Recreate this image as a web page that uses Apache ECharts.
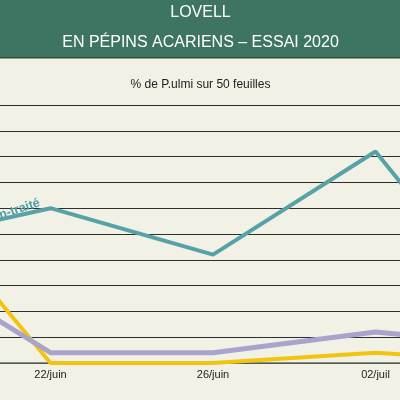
<!DOCTYPE html>
<html>
<head>
<meta charset="utf-8">
<script src="https://cdn.jsdelivr.net/npm/echarts@6/dist/echarts.min.js"></script>
<style>
  html, body { margin: 0; padding: 0; background: #f2f1e5; overflow: hidden; width: 400px; height: 400px; }
  /* chart is wider than the window: first and last dates fall outside the frame */
  #chart { position: absolute; left: -112.5px; top: 0; width: 650px; height: 400px; }
</style>
</head>
<body>
<div id="chart"></div>
<script>
// dates (first and last fall outside the visible frame)
const categories = ['18/juin', '22/juin', '26/juin', '02/juil', '06/juil'];

// % de P.ulmi sur 50 feuilles
const nonTraite = [46, 60, 42, 82, 4];
const modaliteA = [76, 0, 0, 4, 0];
const modaliteB = [43, 4, 4, 12, 6];

const chart = echarts.init(document.getElementById('chart'));

const shift = 112.5; // window's left edge in chart coords
const mid = shift + 200;
const titleFont = { color: '#ffffff', fontSize: 16, fontWeight: 'normal', fontFamily: 'Liberation Sans' };

chart.setOption({
  backgroundColor: '#f2f1e5',
  animation: false,
  graphic: [
    { type: 'rect', left: 0, top: 0, shape: { width: 650, height: 57 }, style: { fill: '#3e7562' }, z: -1 },
    { type: 'rect', left: 0, top: 57, shape: { width: 650, height: 1.5 }, style: { fill: '#2c4f40' }, z: -1 }
  ],
  title: [
    { text: 'LOVELL', left: mid, textAlign: 'center', top: 5, padding: 0, textStyle: titleFont },
    { text: 'EN PÉPINS ACARIENS – ESSAI 2020', left: mid, textAlign: 'center', top: 35, padding: 0, textStyle: titleFont },
    {
      text: '% de P.ulmi sur 50 feuilles', left: mid, textAlign: 'center', top: 79, padding: 0,
      textStyle: { color: '#222', fontSize: 12, fontWeight: 'normal', fontFamily: 'Liberation Sans' }
    }
  ],
  grid: { left: 0, right: 0, top: 105, bottom: 37, outerBoundsMode: 'none', containLabel: false },
  xAxis: {
    type: 'category',
    data: categories,
    boundaryGap: false,
    axisLine: { lineStyle: { color: '#5f6b5e', width: 1.5 } },
    axisTick: { show: false },
    axisLabel: { interval: 0, color: '#222', fontSize: 11, fontFamily: 'Liberation Sans', margin: 6 }
  },
  yAxis: {
    type: 'value',
    min: 0,
    max: 100,
    interval: 10,
    axisLabel: { show: false },
    axisLine: { show: false },
    axisTick: { show: false },
    splitLine: { lineStyle: { color: '#2e2e2e', width: 1 } }
  },
  series: [
    {
      name: 'Modalité A',
      type: 'line',
      data: modaliteA,
      showSymbol: false,
      lineStyle: { color: '#f2c40f', width: 4 }
    },
    {
      name: 'Modalité B',
      type: 'line',
      data: modaliteB,
      showSymbol: false,
      lineStyle: { color: '#aaa4cc', width: 5 }
    },
    {
      name: 'Non-traité',
      type: 'line',
      data: nonTraite.map((v, i) => i === 1 ? {
        value: v,
        label: {
          show: true,
          position: 'left',
          distance: 9,
          rotate: 18,
          offset: [0, -6],
          formatter: 'Non-traité',
          color: '#4f9ea5',
          fontSize: 12.5,
          fontWeight: 'bold',
          fontFamily: 'Liberation Sans'
        }
      } : v),
      showSymbol: true,
      symbolSize: 0,
      itemStyle: { color: '#56a2a8' },
      lineStyle: { color: '#56a2a8', width: 4 }
    }
  ]
});
</script>
</body>
</html>
